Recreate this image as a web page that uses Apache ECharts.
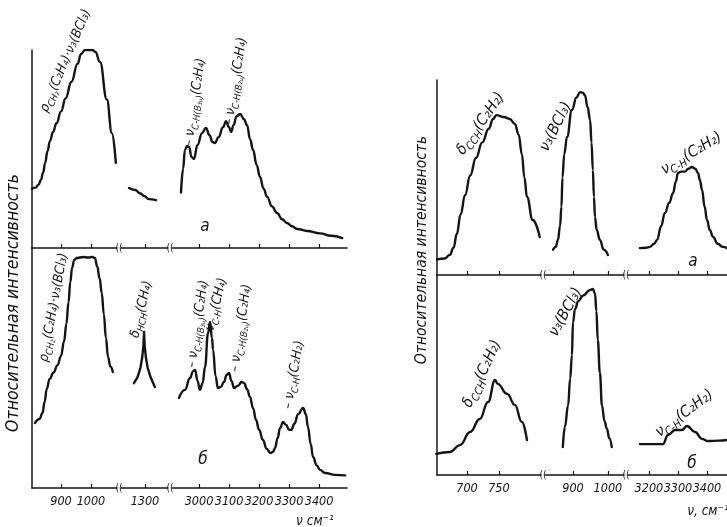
<!DOCTYPE html>
<html><head><meta charset="utf-8">
<script src="https://cdn.jsdelivr.net/npm/echarts@6/dist/echarts.min.js"></script>
<style>html,body{margin:0;background:#fff}#c{width:727px;height:527px}</style>
</head><body><div id="c"></div>
<script>
// ---- data: [wavenumber, relative intensity] ----
// left figure, panel a
const leftA_low = [[803,30],[815,30.5],[825,32],[833,34.5],[840,38],[847,43],[855,49],[863,54],[873,58.5],[885,63],[900,69],[915,75.5],[935,84],[955,93],[967,98],[980,100],[1005,100],[1015,99],[1030,94],[1053,75],[1070,58],[1083,43]];
const leftA_mid = [[1247,30.3],[1267,29.3],[1285,27.5],[1297,26.3],[1313,24.7],[1337,24.2]];
const leftA_high = [[2940,28],[2947,40],[2953,49.5],[2960,51.5],[2967,51],[2975,46],[2983,45],[2995,52],[3010,58],[3023,60.6],[3035,57],[3045,53.5],[3053,53],[3065,56],[3080,61],[3090,64],[3100,61],[3107,58.6],[3115,62],[3125,66.5],[3137,67.7],[3150,65],[3160,62],[3170,55],[3180,49.5],[3192,42],[3203,36],[3215,30],[3227,25.8],[3243,21],[3260,17.7],[3277,14.5],[3293,12.6],[3310,11],[3327,9.6],[3360,8.6],[3403,7.4],[3440,6.2],[3477,5]];
// left figure, panel b
const leftB_low = [[813,27.3],[828,29],[838,31.5],[845,36],[852,41.5],[862,45.8],[875,48.5],[888,51.5],[900,55.5],[910,61.5],[918,69],[925,78],[931,86.5],[937,92.5],[944,95.8],[953,96.6],[975,97],[990,96.8],[1005,97],[1013,96.6],[1021,93],[1029,88],[1036,82],[1043,73],[1050,63],[1057,55],[1065,51],[1073,48.7]];
const leftB_mid = [[1263,44],[1275,46.5],[1285,50.5],[1291,55],[1295,60],[1297,65.5],[1299,60],[1303,55],[1309,50.5],[1319,46.5],[1333,42.4]];
const leftB_high = [[2933,37.8],[2953,41.2],[2970,46.2],[2980,49],[2987,49.6],[2995,45],[3003,41.2],[3012,44],[3020,50.8],[3030,65.1],[3037,69.7],[3043,63],[3047,58],[3055,47],[3063,42],[3073,42.5],[3083,44.5],[3092,47.5],[3100,48.3],[3108,45],[3117,42],[3130,43],[3142,44.5],[3150,44.1],[3160,41.5],[3170,38.2],[3180,33.5],[3190,28.6],[3200,24.5],[3213,20.2],[3225,16.5],[3237,14.7],[3247,15.2],[3253,16.8],[3262,21],[3270,25.2],[3280,27.7],[3290,26.5],[3300,24.4],[3307,24.4],[3318,27],[3330,31],[3347,33.6],[3356,31],[3363,25.6],[3372,18.5],[3380,13],[3392,9.5],[3403,7.6],[3420,6.3],[3453,5.5],[3487,5.3]];
// right figure, panel a
const rightA_low = [[653,8],[665,8.5],[673,10.3],[679,14],[684,21],[690,31],[697,41],[705,51],[714,60],[724,68],[734,75],[741,80],[746,82],[758,81],[767,80],[775,77.5],[781,72],[786,62],[790,50],[794,40],[803,28.2],[814,19.5]];
const rightA_mid = [[843,13],[851,14.5],[857,18],[863,25],[867,35],[870,50],[875,62],[883,70.8],[897,84.6],[910,91],[920,93.8],[928,93.5],[934,92.3],[942,86],[949,79.5],[953,68],[957,53.8],[960,40],[963,29.7],[968,23],[977,18],[988,13],[1000,10.3]];
const rightA_high = [[3169,13.8],[3190,14],[3203,14.4],[3218,16],[3228,18],[3242,25],[3255,31.8],[3270,37],[3283,42],[3293,48],[3300,52.3],[3312,53],[3324,53],[3336,54.5],[3348,55.4],[3360,54.5],[3369,52.3],[3376,48.5],[3383,43.6],[3392,35],[3400,28.2],[3410,23],[3421,19.5],[3437,16],[3455,14.4],[3469,13.8]];
// right figure, panel b
const rightB_low = [[652,10.9],[673,11.9],[689,15.5],[705,22.3],[720,29],[733,37.8],[744,49.2],[748,47.2],[763,42],[775,36.3],[786,27.5],[794,18.1]];
const rightB_mid = [[871,14.5],[877,25],[886,36],[892,50],[897,62],[900,79],[906,86],[915,90],[929,93],[949,95.8],[957,96.4],[963,94],[967,85],[971,70],[977,53],[983,36],[990,28],[997,24],[1004,19],[1011,14.5]];
const rightB_high = [[3169,16],[3200,16],[3248,16],[3266,20.7],[3290,23.3],[3314,23.3],[3331,25.4],[3359,22.3],[3383,18.7],[3403,17.6],[3440,17.8],[3469,18.1]];

// ---- tick labels ----
const ticksL1 = [900, 1000];
const ticksL2 = [1300];
const ticksL3 = [3000, 3100, 3200, 3300, 3400];
const ticksR1 = [700, 750];
const ticksR2 = [900, 1000];
const ticksR3 = [3200, 3300, 3400];

// ---- layout ----
const INK = '#141414';
const FONT = '"DejaVu Sans Condensed","Liberation Sans Narrow","DejaVu Sans",sans-serif';
const segsL = [
  {left:32, width:85, min:803, max:1087, ticks:ticksL1},
  {left:121, width:47, min:1220, max:1377, ticks:ticksL2},
  {left:172, width:175, min:2910, max:3493, ticks:ticksL3}
];
const segsR = [
  {left:437, width:104, min:653, max:816, ticks:ticksR1},
  {left:545, width:79, min:820, max:1046, ticks:ticksR2},
  {left:628, width:99, min:3128, max:3469, ticks:ticksR3}
];
const panels = [
  {segs:segsL, top:50, height:198, ymax:100, data:[leftA_low,leftA_mid,leftA_high], labels:false},
  {segs:segsL, top:248, height:240, ymax:100.8, data:[leftB_low,leftB_mid,leftB_high], labels:true},
  {segs:segsR, top:80, height:195, ymax:100, data:[rightA_low,rightA_mid,rightA_high], labels:false},
  {segs:segsR, top:275, height:200, ymax:103.6, data:[rightB_low,rightB_mid,rightB_high], labels:true}
];

const grid = [], xAxis = [], yAxis = [], series = [], graphic = [];
panels.forEach(p => {
  p.segs.forEach((s, j) => {
    const i = grid.length;
    grid.push({left:s.left, top:p.top, width:s.width, height:p.height});
    xAxis.push({
      gridIndex:i, type:'value', min:s.min, max:s.max,
      axisLine:{show:true, onZero:false, lineStyle:{color:INK, width:1.5}},
      axisTick:{show:true, inside:true, length:4, customValues:s.ticks, lineStyle:{color:INK, width:1.2}},
      axisLabel:{show:p.labels, customValues:s.ticks, hideOverlap:false, showMinLabel:true, showMaxLabel:true,
        formatter:(v) => String(v), color:INK, fontSize:12.5, fontStyle:'italic', fontFamily:FONT, margin:7},
      splitLine:{show:false}
    });
    yAxis.push({
      gridIndex:i, type:'value', min:0, max:p.ymax,
      axisLine:{show:j===0, onZero:false, lineStyle:{color:INK, width:1.5}},
      axisTick:{show:false}, axisLabel:{show:false}, splitLine:{show:false}
    });
    const sharp = (p.data[j] === leftB_mid);
    series.push({
      type:'line', xAxisIndex:i, yAxisIndex:i, data:p.data[j],
      showSymbol:false, smooth: sharp ? false : 0.45, smoothMonotone:'x',
      lineStyle:{color:INK, width:2.4, join:'round', cap:'round'}, animation:false, silent:true
    });
    // break marks between segments
    if (j < p.segs.length - 1) {
      const nx = p.segs[j+1].left;
      const bx = (s.left + s.width + nx) / 2;
      graphic.push({type:'text', x:bx, y:p.top + p.height, style:{text:'((', fill:INK, font:'10px ' + FONT, align:'center', verticalAlign:'middle'}});
    }
  });
});

// axis titles, panel letters
const T = (x, y, text, size, rot) => graphic.push({type:'text', x, y, rotation:rot||0,
  style:{text, fill:INK, font:'italic ' + size + 'px ' + FONT, align:'center', verticalAlign:'middle'}});
T(13, 303, 'Относительная интенсивность', 17.5, Math.PI/2);
T(422, 250, 'Относительная интенсивность', 15.5, Math.PI/2);
T(315, 521, 'ν см⁻¹', 13.5);
T(708, 511, 'ν, см⁻¹', 13.5);
T(205, 227, 'а', 17);
T(203, 460, 'б', 17);
T(693, 262, 'а', 17);
T(692, 464, 'б', 17);

// band annotations
const mkRich = (m, s) => ({
  m:{fontSize:m, fontStyle:'italic', fontFamily:FONT, lineHeight:m + 3, verticalAlign:'top', fill:INK},
  s:{fontSize:s, fontStyle:'italic', fontFamily:FONT, lineHeight:s, verticalAlign:'bottom', fill:INK}
});
const richL = mkRich(13.5, 9.5), richR = mkRich(15.5, 11);
const annL = [
  [45,112,66.7,'{m|ρ}{s|CH₂}{m|(C₂H₄)·ν₃(BCl₃)}'],
  [190,146,82,'{m|– ν}{s|C-H(B₃ᵤ)}{m|(C₂H₄)}'],
  [230,125,81,'{m|– ν}{s|C-H(B₂ᵤ)}{m|(C₂H₄)}'],
  [45,362,79.6,'{m|ρ}{s|CH₂}{m|(C₂H₄)·ν₃(BCl₃)}'],
  [136,338,76.7,'{m|δ}{s|HCH}{m|(CH₄)}'],
  [193,368,82,'{m|– ν}{s|C-H(B₃ᵤ)}{m|(C₂H₄)}'],
  [211,331,76,'{m|ν}{s|C-H}{m|(CH₄)}'],
  [236,372,82,'{m|– ν}{s|C-H(B₂ᵤ)}{m|(C₂H₄)}'],
  [289,409,80,'{m|– ν}{s|C-H}{m|(C₂H₂)}']
];
const annR = [
  [461,154,55,'{m|δ}{s|CCH}{m|(C₂H₂)}'],
  [545,151,63,'{m|ν₃(BCl₃)}'],
  [663,172,31,'{m|ν}{s|C-H}{m|(C₂H₂)}'],
  [468,407,65,'{m|δ}{s|CCH}{m|(C₂H₂)}'],
  [554,336,61,'{m|ν₃(BCl₃)}'],
  [658,435,37,'{m|ν}{s|C-H}{m|(C₂H₂)}']
];
const addAnn = (list, rich) => list.forEach(a => graphic.push({type:'text', x:a[0], y:a[1], rotation:a[2]*Math.PI/180,
  style:{text:a[3], rich, fill:INK, align:'left', verticalAlign:'middle'}}));
addAnn(annL, richL);
addAnn(annR, richR);

const chart = echarts.init(document.getElementById('c'), null, {renderer:'canvas'});
chart.setOption({backgroundColor:'#fff', animation:false, grid, xAxis, yAxis, series, graphic});
</script></body></html>
